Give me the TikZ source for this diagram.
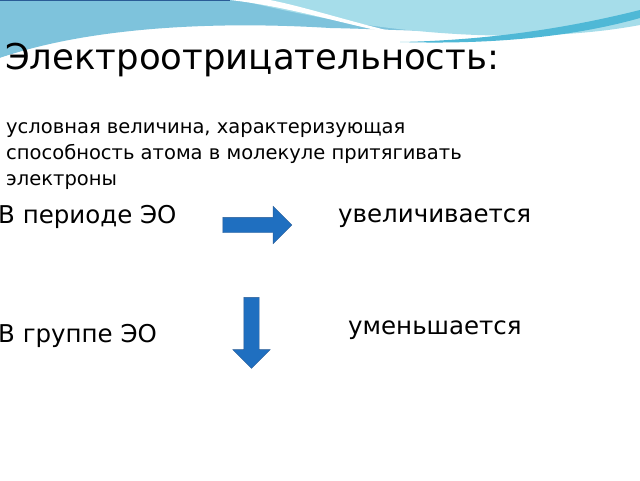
\documentclass[tikz,border=0pt]{standalone}
\usepackage{fontspec}
\setmainfont{DejaVu Sans}
\usetikzlibrary{shapes.arrows}
\definecolor{eoBlue}{HTML}{1F6FC0}
\definecolor{eoEdge}{HTML}{2A5C96}
\definecolor{waveA}{HTML}{7EC3DC}
\definecolor{waveB}{HTML}{4FB8D6}
\definecolor{waveC}{HTML}{A6DDEA}
\tikzset{
  eoarrow/.style={single arrow, draw=eoEdge, fill=eoBlue, single arrow head extend=11pt, inner sep=7.5pt, minimum width=37pt},
  eotext/.style={anchor=west, inner sep=0pt, font=\fontsize{24.5}{28}\selectfont}
}
\begin{document}
\begin{tikzpicture}[x=1pt,y=-1pt]
				\useasboundingbox (0,0) rectangle (640,480);
				\fill[white] (0,0) rectangle (640,480);
				% header waves
				\fill[waveA] (0,0) -- (640,0) -- (640,10) .. controls (520,40) and (430,30) .. (330,28) .. controls (200,20) and (80,30) .. (0,58) -- cycle;
				\fill[waveC] (240,0) -- (640,0) -- (640,25) .. controls (560,40) and (420,45) .. (240,0) -- cycle;
				\fill[waveB] (400,42) .. controls (500,40) and (580,25) .. (640,10) -- (640,18) .. controls (580,35) and (500,45) .. (400,42) -- cycle;
				\fill[white] (230,0) .. controls (300,8) and (360,30) .. (420,38) .. controls (360,25) and (310,8) .. (270,0) -- cycle;
				\fill[white] (0,58) .. controls (80,32) and (200,22) .. (330,30) .. controls (200,28) and (90,38) .. (0,64) -- cycle;
				\draw[eoEdge,line width=1pt] (0,0.5) -- (230,0.5);
				
				% texts
				\node (title) [anchor=west, inner sep=0pt, font=\fontsize{35.5}{40}\selectfont] at (5,60) {Электроотрицательность:};
				\node (def) [anchor=north west, align=left, inner sep=0pt, font=\fontsize{19.5}{26}\selectfont] at (6,122) {условная величина, характеризующая\\способность атома в молекуле притягивать\\электроны};
				\node (period) [eotext] at (-2,217) {В периоде ЭО};
				\node (incr) [eotext] at (338,218) {увеличивается};
				\node (group) [eotext] at (-2,336) {В группе ЭО};
				\node (decr) [eotext] at (348,330) {уменьшается};
				
				% arrows
				\node (right) [eoarrow, minimum height=69pt] at (253.5,225) {};
				\node (down) [eoarrow, minimum height=71pt, shape border rotate=270] at (251.5,329) {};
			\end{tikzpicture}
\end{document}
